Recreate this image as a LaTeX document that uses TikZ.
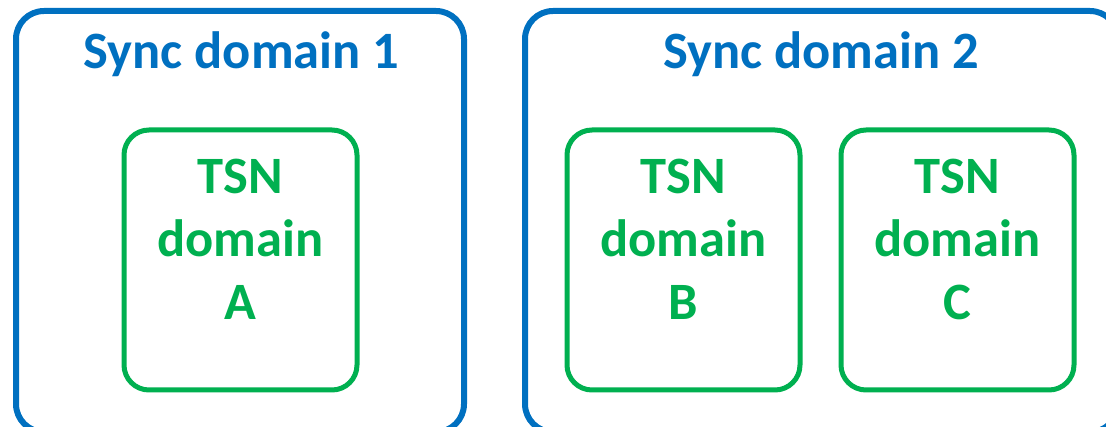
\documentclass[tikz,border=0pt]{standalone}
\usepackage{fontspec}
\setmainfont{Carlito}
\definecolor{syncblue}{HTML}{0070C0}
\definecolor{tsngreen}{HTML}{00B050}
\tikzset{
  syncbox/.style={draw=syncblue, line width=6pt, rounded corners=28pt, inner sep=0pt},
  tsnbox/.style={draw=tsngreen, line width=5pt, rounded corners=25pt, inner sep=0pt,
    minimum width=233pt, minimum height=260pt},
  synctitle/.style={text=syncblue, font=\fontsize{52.5}{60}\selectfont\bfseries, inner sep=0pt, anchor=base},
  tsnlabel/.style={text=tsngreen, font=\fontsize{52.5}{63}\selectfont\bfseries, inner sep=0pt, align=center},
}
\begin{document}
\begin{tikzpicture}[x=1pt, y=-1pt]
  \useasboundingbox (0,0) rectangle (1106,427);
  \clip (0,0) rectangle (1106,427);
  \fill[white] (0,0) rectangle (1106,427);

  % outer synchronisation domains
  \node[syncbox, minimum width=448pt, minimum height=421pt] (s1) at (240,221.5) {};
  \node[syncbox, minimum width=593pt, minimum height=421pt] (s2) at (821.5,221.5) {};
  \node[synctitle] (t1) at (241.5,69) {Sync domain 1};
  \node[synctitle] (t2) at (821,69) {Sync domain 2};

  % TSN domains
  \node[tsnbox] (a) at (240.5,260) {};
  \node[tsnbox] (b) at (683.5,260) {};
  \node[tsnbox] (c) at (957.5,260) {};
  \node[tsnlabel] (la) at ([yshift=21pt]a.center) {TSN\\domain\\A};
  \node[tsnlabel] (lb) at ([yshift=21pt]b.center) {TSN\\domain\\B};
  \node[tsnlabel] (lc) at ([yshift=21pt]c.center) {TSN\\domain\\C};
\end{tikzpicture}
\end{document}
